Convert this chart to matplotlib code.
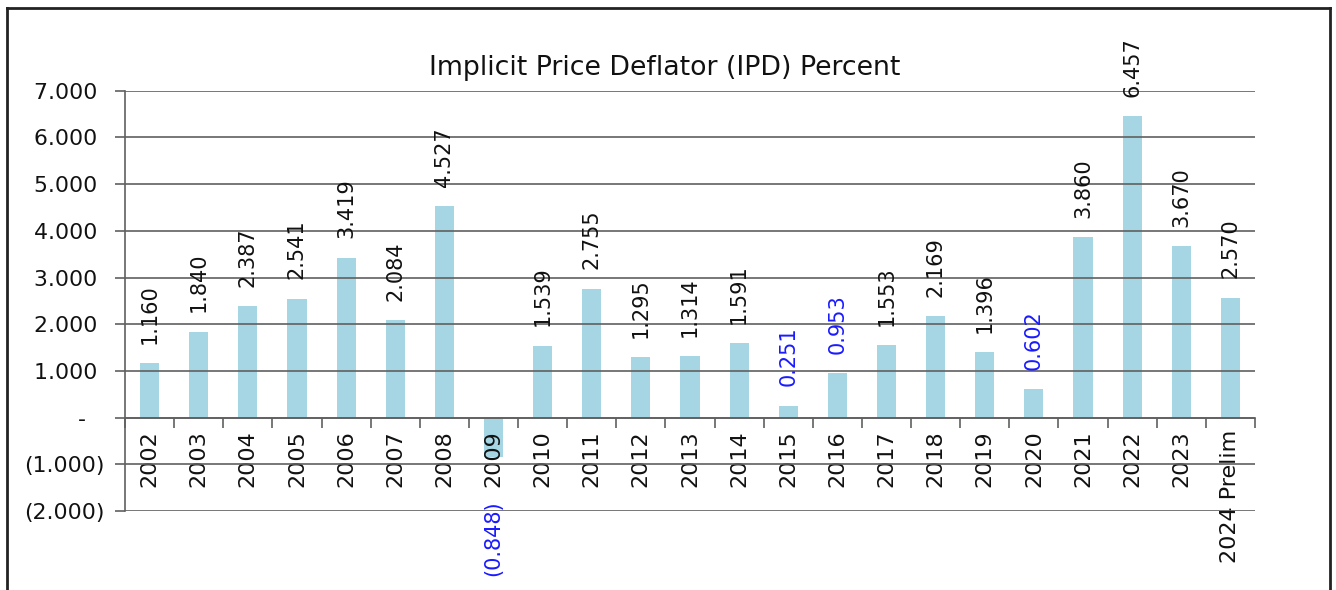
import matplotlib
matplotlib.use("Agg")
import matplotlib.pyplot as plt
from matplotlib.ticker import FixedLocator, FuncFormatter
from matplotlib.lines import Line2D
import numpy as np

plt.rcParams['font.family'] = ['DejaVu Sans']

categories = ["2002", "2003", "2004", "2005", "2006", "2007", "2008", "2009", "2010",
              "2011", "2012", "2013", "2014", "2015", "2016", "2017", "2018", "2019",
              "2020", "2021", "2022", "2023", "2024 Prelim"]
values = [1.160, 1.840, 2.387, 2.541, 3.419, 2.084, 4.527, -0.848, 1.539,
          2.755, 1.295, 1.314, 1.591, 0.251, 0.953, 1.553, 2.169, 1.396,
          0.602, 3.860, 6.457, 3.670, 2.570]
blue_label_years = ["2009", "2015", "2016", "2020"]
y_ticks = [-2, -1, 0, 1, 2, 3, 4, 5, 6, 7]
title = "Implicit Price Deflator (IPD) Percent"

W, H = 1336, 590
fig = plt.figure(figsize=(W / 100, H / 100), dpi=100)
ax = fig.add_axes([125 / W, 1 - 511 / H, (1255 - 125) / W, (511 - 90.7) / H])

x = np.arange(len(categories))
bar_color = "#a6d5e3"
ax.bar(x, values, width=0.39, color=bar_color, zorder=2)
ax.set_axisbelow(False)

ax.set_xlim(-0.5, len(categories) - 0.5)
ax.set_ylim(min(y_ticks), max(y_ticks))

grid_color = "#606060"
ax.yaxis.set_major_locator(FixedLocator(y_ticks))
ax.grid(axis="y", color=grid_color, linewidth=1.2)
ax.grid(axis="x", visible=False)


def fmt(v, pos):
    if abs(v) < 1e-9:
        return "-\u2002\u2008"
    if v < 0:
        return "({:.3f})".format(-v)
    return "{:.3f}\u2008".format(v)


ax.yaxis.set_major_formatter(FuncFormatter(fmt))
ax.tick_params(axis="y", direction="out", length=7, width=1.2, color=grid_color,
               labelsize=15.8, labelcolor="#111111", pad=8)

# category axis at zero
ax.spines["bottom"].set_position(("data", 0))
ax.spines["bottom"].set_color(grid_color)
ax.spines["bottom"].set_linewidth(1.2)
ax.spines["left"].set_color(grid_color)
ax.spines["left"].set_linewidth(1.2)
ax.spines["top"].set_visible(False)
ax.spines["right"].set_visible(False)

ax.set_xticks(x)
ax.set_xticklabels(categories, rotation=90, va="top", ha="center")
ax.set_xticks(np.arange(len(categories) + 1) - 0.5, minor=True)
ax.tick_params(axis="x", which="major", length=0, pad=9, labelsize=16,
               labelcolor="#111111")
ax.tick_params(axis="x", which="minor", length=7, width=1.2, color=grid_color,
               direction="out")

# data labels
for xi, cat, v in zip(x, categories, values):
    color = "#1a1aff" if cat in blue_label_years else "#111111"
    if v >= 0:
        ax.annotate("{:.3f}".format(v), xy=(xi, v), xytext=(0, 14),
                    textcoords="offset points", rotation=90, ha="center",
                    va="bottom", fontsize=15, color=color, annotation_clip=False,
                    zorder=5)
    else:
        ax.annotate("({:.3f})".format(-v), xy=(xi, v), xytext=(0, -31),
                    textcoords="offset points", rotation=90, ha="center",
                    va="top", fontsize=15, color=color, annotation_clip=False,
                    zorder=5)

fig.text(665 / W, 1 - 68 / H, title, ha="center", va="center", fontsize=19.3,
         color="#111111")

# outer frame
fx0, fx1 = 7 / W, 1330 / W
fy1 = 1 - 8 / H
fig.add_artist(Line2D([fx0, fx0], [0, fy1], transform=fig.transFigure, color="#222222", lw=2))
fig.add_artist(Line2D([fx0, fx1], [fy1, fy1], transform=fig.transFigure, color="#222222", lw=2))
fig.add_artist(Line2D([fx1, fx1], [0, fy1], transform=fig.transFigure, color="#222222", lw=2))

fig.savefig("out.png", dpi=100)
